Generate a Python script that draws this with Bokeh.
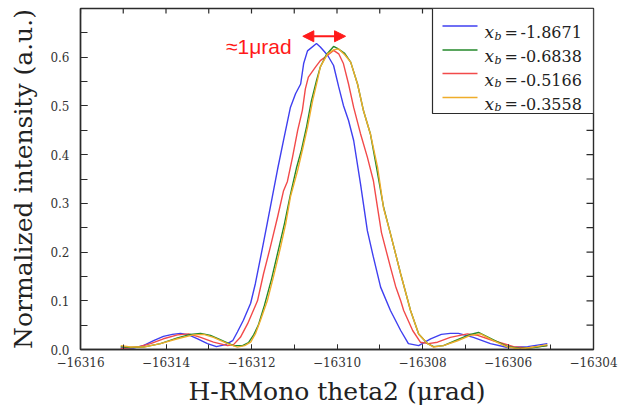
import math
from bokeh.plotting import figure
from bokeh.models import (Range1d, SingleIntervalTicker, NumeralTickFormatter,
                          BasicTickFormatter, Label, Arrow, NormalHead, BoxAnnotation)
from bokeh.embed import file_html
from bokeh.resources import INLINE

# ---------------- data ----------------
blue_x = [-16315.06, -16314.76, -16314.53, -16314.29, -16314.06, -16313.85, -16313.66, -16313.47,
          -16313.26, -16313.03, -16312.82, -16312.61, -16312.44, -16312.33, -16312.19, -16312.02,
          -16311.91, -16311.74, -16311.63, -16311.51, -16311.39, -16311.25, -16311.09, -16310.97,
          -16310.85, -16310.78, -16310.69, -16310.48, -16310.39, -16310.22, -16310.08, -16309.96,
          -16309.85, -16309.73, -16309.61, -16309.45, -16309.29, -16309.15, -16308.98, -16308.75,
          -16308.51, -16308.33, -16308.09, -16307.81, -16307.56, -16307.35, -16307.16, -16306.81,
          -16306.41, -16306.01, -16305.54, -16305.08]
blue_y = [0.003, 0.003, 0.008, 0.018, 0.027, 0.031, 0.033, 0.030,
          0.022, 0.012, 0.006, 0.010, 0.018, 0.036, 0.060, 0.095,
          0.135, 0.210, 0.260, 0.315, 0.370, 0.430, 0.497, 0.525,
          0.545, 0.587, 0.613, 0.628, 0.621, 0.604, 0.583, 0.539,
          0.501, 0.470, 0.429, 0.340, 0.244, 0.190, 0.128, 0.080,
          0.039, 0.012, 0.008, 0.022, 0.031, 0.033, 0.033, 0.025,
          0.012, 0.004, 0.006, 0.012]

red_x = [-16315.06, -16314.67, -16314.36, -16314.06, -16313.73, -16313.47, -16313.19, -16312.89,
         -16312.56, -16312.42, -16312.26, -16312.09, -16311.86, -16311.72, -16311.56, -16311.39,
         -16311.25, -16311.16, -16311.04, -16310.92, -16310.81, -16310.74, -16310.67, -16310.50,
         -16310.39, -16310.22, -16310.08, -16309.96, -16309.85, -16309.73, -16309.61, -16309.45,
         -16309.29, -16309.15, -16309.05, -16308.96, -16308.75, -16308.63, -16308.51, -16308.44,
         -16308.23, -16308.05, -16307.86, -16307.65, -16307.35, -16306.95, -16306.71, -16306.34,
         -16305.87, -16305.54, -16305.08]
red_y = [0.002, 0.005, 0.012, 0.022, 0.030, 0.032, 0.025, 0.015,
         0.008, 0.010, 0.025, 0.053, 0.100, 0.155, 0.210, 0.272,
         0.326, 0.345, 0.395, 0.450, 0.491, 0.535, 0.559, 0.580,
         0.593, 0.604, 0.614, 0.607, 0.587, 0.545, 0.497, 0.443,
         0.395, 0.347, 0.290, 0.240, 0.169, 0.130, 0.100, 0.080,
         0.039, 0.015, 0.012, 0.015, 0.025, 0.032, 0.029, 0.018,
         0.006, 0.003, 0.008]

green_x = [-16315.06, -16314.83, -16314.53, -16314.13, -16313.73, -16313.43, -16313.19, -16312.96,
           -16312.68, -16312.42, -16312.21, -16312.07, -16311.95, -16311.84, -16311.70, -16311.53,
           -16311.37, -16311.23, -16311.09, -16310.95, -16310.83, -16310.71, -16310.60, -16310.48,
           -16310.39, -16310.25, -16310.08, -16309.99, -16309.82, -16309.68, -16309.52, -16309.38,
           -16309.22, -16309.08, -16308.91, -16308.75, -16308.51, -16308.28, -16308.09, -16307.88,
           -16307.74, -16307.51, -16307.18, -16306.88, -16306.69, -16306.34, -16306.01, -16305.71,
           -16305.40, -16305.08]
green_y = [0.006, 0.004, 0.005, 0.012, 0.024, 0.031, 0.033, 0.029,
           0.018, 0.008, 0.008, 0.014, 0.030, 0.050, 0.090, 0.145,
           0.205, 0.258, 0.318, 0.372, 0.410, 0.458, 0.510, 0.552,
           0.580, 0.605, 0.622, 0.618, 0.608, 0.590, 0.545, 0.490,
           0.443, 0.376, 0.292, 0.238, 0.155, 0.080, 0.032, 0.012,
           0.006, 0.008, 0.020, 0.031, 0.035, 0.020, 0.006, 0.002,
           0.004, 0.008]

orange_x = [-16315.06, -16314.83, -16314.53, -16314.13, -16313.73, -16313.36, -16313.12, -16312.89,
            -16312.56, -16312.33, -16312.16, -16312.02, -16311.91, -16311.79, -16311.63, -16311.49,
            -16311.32, -16311.20, -16311.09, -16310.92, -16310.81, -16310.69, -16310.57, -16310.46,
            -16310.39, -16310.22, -16310.08, -16309.96, -16309.82, -16309.68, -16309.52, -16309.38,
            -16309.22, -16309.05, -16308.91, -16308.75, -16308.51, -16308.28, -16308.09, -16307.88,
            -16307.74, -16307.51, -16307.18, -16306.88, -16306.64, -16306.34, -16306.01, -16305.71,
            -16305.40, -16305.08]
orange_y = [0.008, 0.005, 0.005, 0.012, 0.022, 0.030, 0.031, 0.025,
            0.012, 0.005, 0.008, 0.015, 0.032, 0.060, 0.100, 0.148,
            0.210, 0.258, 0.313, 0.368, 0.409, 0.456, 0.511, 0.552,
            0.580, 0.607, 0.615, 0.617, 0.605, 0.590, 0.545, 0.490,
            0.443, 0.374, 0.290, 0.238, 0.155, 0.080, 0.032, 0.012,
            0.005, 0.008, 0.018, 0.029, 0.032, 0.018, 0.005, 0.001,
            0.005, 0.010]

legend_values = ["-1.8671", "-0.6838", "-0.5166", "-0.3558"]
annotation_text = "\u22481\u03bcrad"
x_label = "H-RMono theta2 (\u03bcrad)"
y_label = "Normalized intensity (a.u.)"
# tick positions of the frame's top and right edges
top_ticks = [-16316, -16315, -16314, -16313, -16312, -16311, -16310, -16309,
             -16308, -16307, -16306, -16305, -16304]
right_ticks = [0.0, 0.05, 0.1, 0.15, 0.2, 0.25, 0.3, 0.35, 0.4, 0.45, 0.5, 0.55, 0.6, 0.65, 0.7]

BLUE, GREEN, RED, ORANGE = "#3f3ff0", "#23892a", "#f24a4a", "#efad2a"
DARK = "#2b2b2b"
SERIF = "DejaVu Serif"

p = figure(width=634, height=419, output_backend="svg", toolbar_location=None,
           x_range=Range1d(-16316, -16304), y_range=Range1d(0, 0.7),
           min_border_left=80, min_border_right=41, min_border_top=8, min_border_bottom=70,
           x_axis_label=x_label, y_axis_label=y_label)
p.title.visible = False
p.xgrid.visible = False
p.ygrid.visible = False
p.outline_line_color = DARK
p.outline_line_width = 1.4

def style_axis(ax, tick_len):
    ax.axis_line_color = DARK
    ax.axis_line_width = 1.4
    ax.major_tick_line_color = DARK
    ax.minor_tick_line_color = DARK
    ax.major_tick_in = tick_len
    ax.major_tick_out = 0
    ax.minor_tick_in = tick_len
    ax.minor_tick_out = 0
    ax.major_label_text_color = "#333333"
    ax.major_label_text_font = SERIF
    ax.major_label_text_font_size = "12px"
    ax.axis_label_text_font = SERIF
    ax.axis_label_text_font_style = "normal"
    ax.axis_label_text_color = "#222222"
    ax.axis_label_text_font_size = "25px"

xa = p.xaxis[0]
xa.ticker = SingleIntervalTicker(interval=2, num_minor_ticks=2)
xa.formatter = BasicTickFormatter(use_scientific=False)
style_axis(xa, 5)
xa.major_label_standoff = 7
xa.axis_label_standoff = 7

ya = p.yaxis[0]
ya.ticker = SingleIntervalTicker(interval=0.1, num_minor_ticks=2)
ya.formatter = NumeralTickFormatter(format="0.0")
style_axis(ya, 7)
ya.major_label_standoff = 11
ya.axis_label_standoff = 9

# ticks along the top and right edges (half of each dash is clipped by the frame)
p.scatter(top_ticks, [0.7] * len(top_ticks), marker="dash", angle=math.pi / 2, size=10,
          line_color=DARK, line_width=1.2)
p.scatter([-16304] * len(right_ticks), right_ticks, marker="dash", size=14,
          line_color=DARK, line_width=1.2)

series = [(blue_x, blue_y, BLUE), (red_x, red_y, RED),
          (green_x, green_y, GREEN), (orange_x, orange_y, ORANGE)]
for xs, ys, c in series:
    p.line(xs, ys, line_color=c, line_width=1.4)

# ---- annotation: arrow + text ----
head = dict(size=11, fill_color="#ff1a1a", line_color="#ff1a1a")
p.add_layout(Arrow(x_start=-16310.8, y_start=0.643, x_end=-16309.8, y_end=0.643,
                   start=NormalHead(**head), end=NormalHead(**head),
                   line_color="#ff1a1a", line_width=2))
p.add_layout(Label(x=-16311.06, y=0.621, text=annotation_text, text_align="right",
                   text_baseline="alphabetic", text_font="Liberation Sans",
                   text_font_size="21px", text_color="#ff1a1a"))

# ---- legend (frame-relative screen units) ----
p.add_layout(BoxAnnotation(left=352, right=513, top=341, bottom=236,
                           left_units="screen", right_units="screen",
                           top_units="screen", bottom_units="screen",
                           fill_color="white", fill_alpha=1.0,
                           line_color=DARK, line_width=1.2, line_alpha=1.0))
rows = [323.5, 299.5, 276, 252]
colors = [BLUE, GREEN, RED, ORANGE]
for ry, c, val in zip(rows, colors, legend_values):
    p.add_layout(Arrow(x_start=362, y_start=ry, x_end=397, y_end=ry,
                       start_units="screen", end_units="screen",
                       start=None, end=None, line_color=c, line_width=1.4))
    p.add_layout(Label(x=404, y=ry - 6, x_units="screen", y_units="screen", text="x",
                       text_font=SERIF, text_font_style="italic", text_font_size="17px",
                       text_color="#222222", text_baseline="alphabetic"))
    p.add_layout(Label(x=414, y=ry - 10, x_units="screen", y_units="screen", text="b",
                       text_font=SERIF, text_font_style="italic", text_font_size="11px",
                       text_color="#222222", text_baseline="alphabetic"))
    p.add_layout(Label(x=424, y=ry - 6, x_units="screen", y_units="screen", text="=",
                       text_font=SERIF, text_font_size="16px",
                       text_color="#222222", text_baseline="alphabetic"))
    p.add_layout(Label(x=440, y=ry - 6, x_units="screen", y_units="screen", text=val,
                       text_font=SERIF, text_font_size="16px",
                       text_color="#222222", text_baseline="alphabetic"))

open("out.html", "w").write(file_html(p, INLINE))
